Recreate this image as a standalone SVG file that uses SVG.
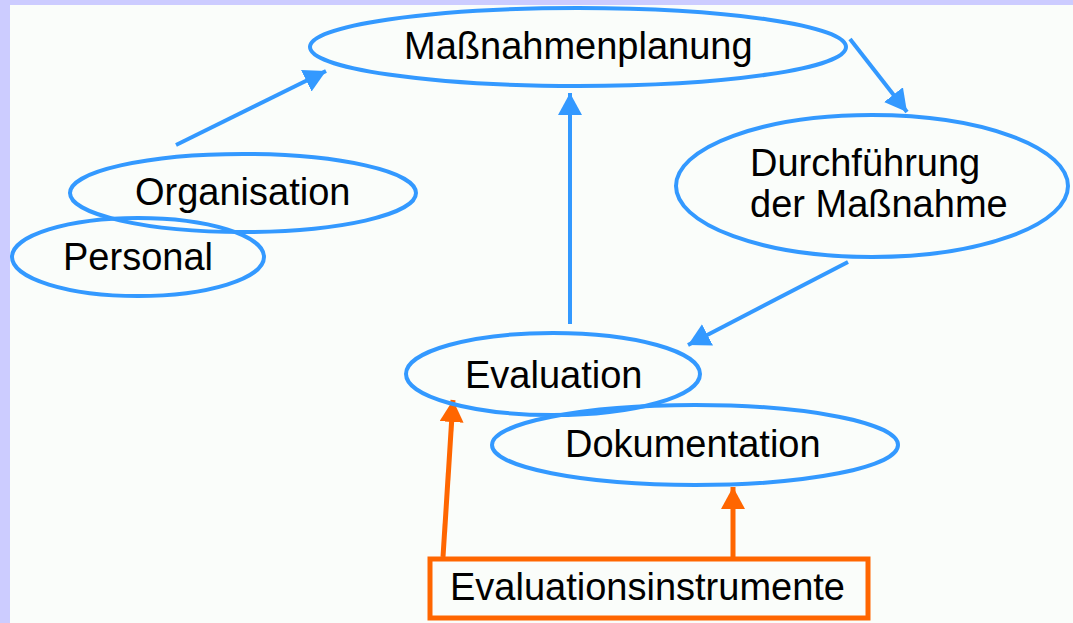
<svg xmlns="http://www.w3.org/2000/svg" width="1073" height="623" viewBox="0 0 1073 623">
<defs>
<style>
.n{fill:none;stroke:#3399FF;stroke-width:4}
.t{font-family:"Liberation Sans",Arial,sans-serif;font-size:38px;fill:#000}
.cb{stroke:#3399FF;stroke-width:4;fill:none}
.co{stroke:#FF6600;stroke-width:5;fill:none}
</style>
<marker id="ab" markerUnits="userSpaceOnUse" markerWidth="24" markerHeight="24" viewBox="0 0 24 24" refX="22" refY="12" orient="auto"><path d="M0,0 L22,12 L0,24 z" fill="#3399FF"/></marker>
<marker id="ao" markerUnits="userSpaceOnUse" markerWidth="24" markerHeight="24" viewBox="0 0 24 24" refX="22" refY="12" orient="auto"><path d="M0,0 L22,12 L0,24 z" fill="#FF6600"/></marker>
</defs>
<rect x="0" y="0" width="1073" height="623" fill="#CCCCFF"/>
<rect x="10" y="5" width="1063" height="618" fill="#FAFDFA"/>
<g id="connectors">
<line class="cb" x1="176" y1="145" x2="326" y2="71" marker-end="url(#ab)"/>
<line class="cb" x1="570" y1="324" x2="570" y2="93" marker-end="url(#ab)"/>
<line class="cb" x1="850" y1="39" x2="907" y2="112" marker-end="url(#ab)"/>
<line class="cb" x1="848" y1="262" x2="688" y2="345" marker-end="url(#ab)"/>
<line class="co" x1="443" y1="557" x2="453" y2="400" marker-end="url(#ao)"/>
<line class="co" x1="733" y1="557" x2="733" y2="487" marker-end="url(#ao)"/>
</g>
<g id="massnahmenplanung"><ellipse class="n" cx="578" cy="47" rx="268" ry="39"/><text class="t" x="404" y="59">Maßnahmenplanung</text></g>
<g id="organisation"><ellipse class="n" cx="243" cy="193" rx="173" ry="39"/><text class="t" x="135" y="205">Organisation</text></g>
<g id="personal"><ellipse class="n" cx="138" cy="257" rx="126" ry="39"/><text class="t" x="63" y="270">Personal</text></g>
<g id="durchfuehrung"><ellipse class="n" cx="872" cy="186" rx="196" ry="71"/><text class="t" x="750" y="176">Durchführung</text><text class="t" x="750" y="217">der Maßnahme</text></g>
<g id="evaluation"><ellipse class="n" cx="553" cy="374" rx="147" ry="41"/><text class="t" x="465" y="388">Evaluation</text></g>
<g id="dokumentation"><ellipse class="n" cx="695" cy="445" rx="203" ry="40"/><text class="t" x="565" y="457">Dokumentation</text></g>
<g id="evaluationsinstrumente"><rect x="430" y="559" width="438" height="59" fill="none" stroke="#FF6600" stroke-width="5"/><text class="t" x="450" y="600">Evaluationsinstrumente</text></g>
</svg>
